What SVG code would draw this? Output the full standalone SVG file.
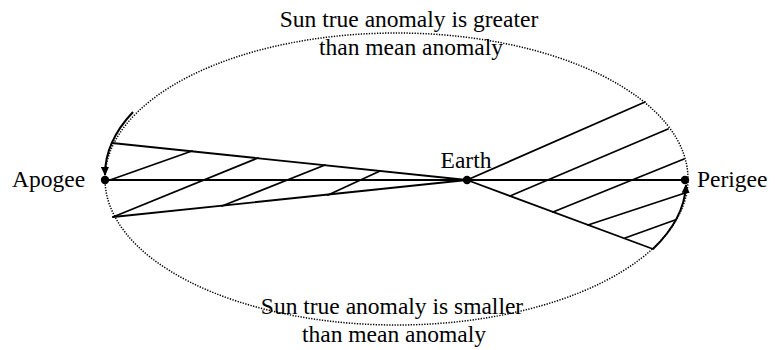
<svg xmlns="http://www.w3.org/2000/svg" width="775" height="350" viewBox="0 0 775 350">
<style>
  .ln{stroke:#000;stroke-width:1.8;fill:none;stroke-linecap:round}
  .arc{stroke:#000;stroke-width:2;fill:none}
  .dot{fill:#000}
  .lbl{font-family:"Liberation Serif","Times New Roman",serif;font-size:23.5px;fill:#000}
</style>
<defs>
  <marker id="ah" markerUnits="userSpaceOnUse" markerWidth="9" markerHeight="8" refX="8" refY="4" orient="auto">
    <path d="M0,0 L9,4 L0,8 z" fill="#000"/>
  </marker>
</defs>
<g id="orbit">
  <ellipse cx="396.5" cy="179" rx="291.5" ry="146" fill="none" stroke="#000" stroke-width="1.5" stroke-dasharray="1.3 1.4"/>
</g>
<g id="connectors">
  <line class="ln" x1="105" y1="180" x2="685" y2="180"/>
  <!-- left wedge -->
  <line class="ln" x1="112" y1="143" x2="467" y2="180"/>
  <line class="ln" x1="113" y1="217" x2="467" y2="180"/>
  <line class="ln" x1="110" y1="180" x2="192" y2="151"/>
  <line class="ln" x1="113" y1="217" x2="258" y2="158"/>
  <line class="ln" x1="222" y1="206" x2="325" y2="165"/>
  <line class="ln" x1="328" y1="195" x2="380" y2="171"/>
  <!-- right wedge -->
  <line class="ln" x1="467" y1="180" x2="645" y2="102"/>
  <line class="ln" x1="467" y1="180" x2="653" y2="249"/>
  <line class="ln" x1="510" y1="196" x2="668" y2="129"/>
  <line class="ln" x1="553" y1="212" x2="684" y2="159"/>
  <line class="ln" x1="588" y1="225" x2="685" y2="193"/>
  <line class="ln" x1="625" y1="238" x2="675" y2="220"/>
  <!-- motion arcs -->
  <path class="arc" d="M133,112 A291.5,146 0 0 0 105,175" marker-end="url(#ah)"/>
  <path class="arc" d="M653,249 A291.5,146 0 0 0 686,185" marker-end="url(#ah)"/>
</g>
<g id="apogee">
  <circle class="dot" cx="105" cy="180" r="4.2"/>
  <text class="lbl" x="12" y="187">Apogee</text>
</g>
<g id="earth">
  <circle class="dot" cx="467" cy="180" r="4.2"/>
  <text class="lbl" x="466" y="168" text-anchor="middle">Earth</text>
</g>
<g id="perigee">
  <circle class="dot" cx="685" cy="180" r="4.2"/>
  <text class="lbl" x="697" y="187">Perigee</text>
</g>
<g id="label-top">
  <text class="lbl" x="409" y="27" text-anchor="middle">Sun true anomaly is greater</text>
  <text class="lbl" x="411" y="55" text-anchor="middle">than mean anomaly</text>
</g>
<g id="label-bottom">
  <text class="lbl" x="392" y="314" text-anchor="middle">Sun true anomaly is smaller</text>
  <text class="lbl" x="394" y="342" text-anchor="middle">than mean anomaly</text>
</g>
</svg>
